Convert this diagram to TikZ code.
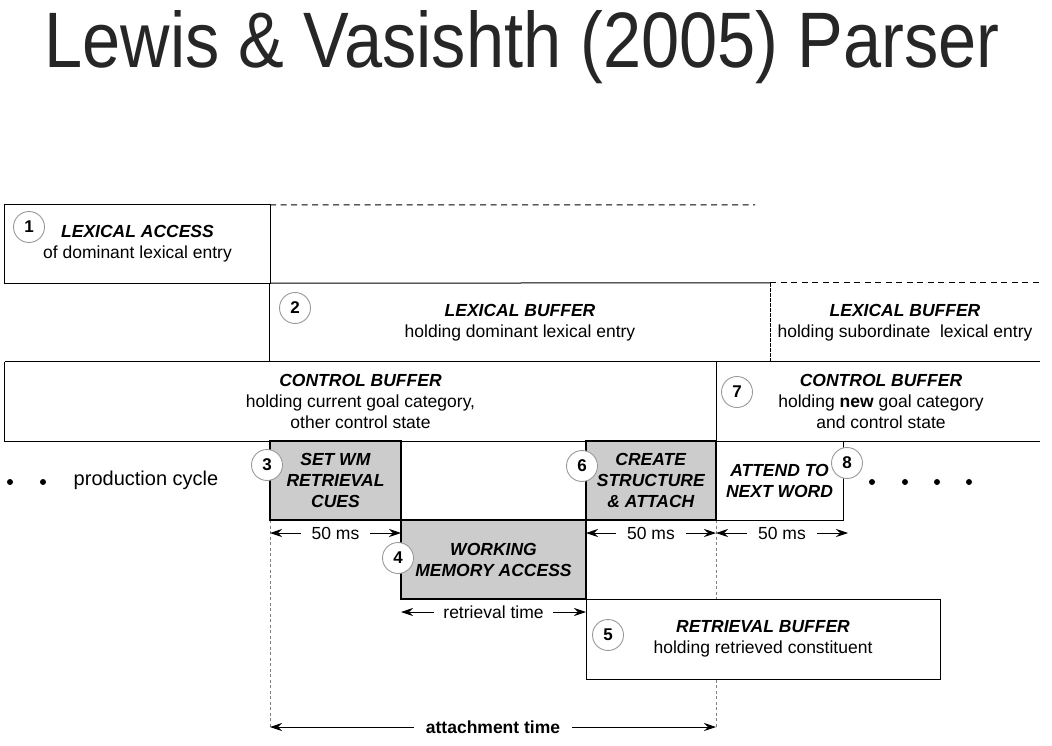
\documentclass[tikz,border=0pt]{standalone}
\usepackage{graphicx}
\usepackage{fontspec}
\setmainfont{Liberation Sans}
\newfontfamily\titlefont{Liberation Sans}
\usetikzlibrary{arrows.meta}
\newcommand\bhead[1]{\textbf{\textit{#1}}}
\begin{document}
\begin{tikzpicture}[x=1pt,y=-1pt,
  region/.style={rectangle, inner sep=0pt, align=center,
    font=\fontsize{17.5}{21}\selectfont},
  thinbox/.style={region, draw, line width=1pt, fill=white},
  graybox/.style={region, draw, line width=2.4pt, fill=gray!40},
  thinline/.style={line width=1pt},
  topdash/.style={line width=1pt, dash pattern=on 6pt off 4.5pt},
  guide/.style={gray, line width=0.7pt, dash pattern=on 3pt off 2.5pt},
  num/.style={circle, draw=gray!80, fill=white, line width=0.9pt,
    minimum size=31pt, inner sep=0pt, font=\fontsize{17}{17}\selectfont\bfseries},
  dim/.style={line width=0.8pt, {Stealth[length=12pt,width=8pt,inset=4pt]}-{Stealth[length=12pt,width=8pt,inset=4pt]}},
  dimlbl/.style={fill=white, inner xsep=11pt, inner ysep=2pt, font=\fontsize{17.5}{17.5}\selectfont},
  dot/.style={circle, fill=black, minimum size=6pt, inner sep=0pt}
]
\useasboundingbox (0,0) rectangle (1052,746);

% title
\node[anchor=base, inner sep=0pt, text=black!85] (title) at (522,68)
  {\resizebox{955pt}{57pt}{\titlefont Lewis \& Vasishth (2005) Parser}};

% regions (text only)
\node[region, minimum width=265pt, minimum height=78pt] (la) at (137.5,244)
  {\bhead{LEXICAL ACCESS}\\of dominant lexical entry};
\node[region, minimum width=500pt, minimum height=79pt] (lb1) at (520,322.5)
  {\bhead{LEXICAL BUFFER}\\holding dominant lexical entry};
\node[region, minimum width=270pt, minimum height=79pt] (lb2) at (905,322.5)
  {\bhead{LEXICAL BUFFER}\\holding subordinate\ \ lexical entry};
\node[region, minimum width=711pt, minimum height=79pt] (cb1) at (360.5,401.5)
  {\bhead{CONTROL BUFFER}\\holding current goal category,\\other control state};
\node[region, minimum width=324pt, minimum height=79pt] (cb2) at (878,401.5)
  {\hspace*{6pt}\bhead{CONTROL BUFFER}\\\hspace*{6pt}holding \textbf{new} goal category\\\hspace*{6pt}and control state};

% guide lines
\coordinate (g1) at (270,728);
\coordinate (g2) at (716,728);
\draw[guide] (270,520) -- (g1);
\draw[guide] (716,520) -- (g2);

% borders of upper regions
\draw[thinline] (la.north west) rectangle (la.south east);
\coordinate (dashend) at (755,205);
\draw[topdash] (la.north east) -- (dashend);
\draw[thinline] (la.south east) -- (lb1.north east);
\draw[thinline] (lb1.north west) -- (lb1.south west);
\draw[topdash] (lb1.north east) -- (lb2.north east);
\draw[line width=0.9pt, dash pattern=on 4pt off 1pt] (lb1.north east) -- (lb1.south east);
\draw[thinline] (cb1.north west) -- (cb2.north east);
\draw[thinline] (cb1.north west) -- (cb1.south west) -- (cb2.south east);
\draw[thinline] (cb1.north east) -- (cb1.south east);

% production cycle row
\node[graybox, minimum width=131pt, minimum height=79pt] (sw) at (335.5,480.5)
  {\bhead{SET WM}\\\bhead{RETRIEVAL}\\\bhead{CUES}};
\node[graybox, minimum width=130pt, minimum height=79pt] (cs) at (651,480.5)
  {\bhead{CREATE}\\\bhead{STRUCTURE}\\\bhead{\& ATTACH}};
\node[thinbox, minimum width=127pt, minimum height=79pt] (at) at (779.5,480.5)
  {\bhead{ATTEND TO}\\\bhead{NEXT WORD}};
\node[thinbox, minimum width=354pt, minimum height=80pt] (rb) at (763,639)
  {\bhead{RETRIEVAL BUFFER}\\holding retrieved constituent};
\node[graybox, minimum width=185pt, minimum height=79pt] (wm) at (493.5,559.5)
  {\bhead{WORKING}\\\bhead{MEMORY ACCESS}};

\node[region, font=\fontsize{20}{20}\selectfont] (pc) at (146,480) {production cycle};
\node[dot] (d1) at (10,482) {};
\node[dot] (d2) at (43,482) {};
\node[dot] (d3) at (872,482) {};
\node[dot] (d4) at (905,482) {};
\node[dot] (d5) at (937,482) {};
\node[dot] (d6) at (969,482) {};

% number circles
\node[num] (n1) at (29,227) {1};
\node[num] (n2) at (295,308) {2};
\node[num] (n3) at (267,465) {3};
\node[num] (n4) at (398,558) {4};
\node[num] (n5) at (608,635) {5};
\node[num] (n6) at (582,466) {6};
\node[num] (n7) at (737,392) {7};
\node[num] (n8) at (847,463) {8};

% dimension arrows
\coordinate (a1l) at (270,533); \coordinate (a1r) at (401,533);
\coordinate (a2l) at (586,533); \coordinate (a2r) at (716,533);
\coordinate (a3l) at (716,533); \coordinate (a3r) at (848,533);
\coordinate (a4l) at (401,612); \coordinate (a4r) at (586,612);
\coordinate (a5l) at (270,727); \coordinate (a5r) at (716,727);
\draw[dim] (a1l) -- node[dimlbl] {50 ms} (a1r);
\draw[dim] (a2l) -- node[dimlbl] {50 ms} (a2r);
\draw[dim] (a3l) -- node[dimlbl] {50 ms} (a3r);
\draw[dim] (a4l) -- node[dimlbl, inner xsep=9pt] {retrieval time} (a4r);
\draw[dim] (a5l) -- node[dimlbl, inner xsep=12pt, font=\fontsize{17.5}{17.5}\selectfont\bfseries] {attachment time} (a5r);
\end{tikzpicture}
\end{document}
